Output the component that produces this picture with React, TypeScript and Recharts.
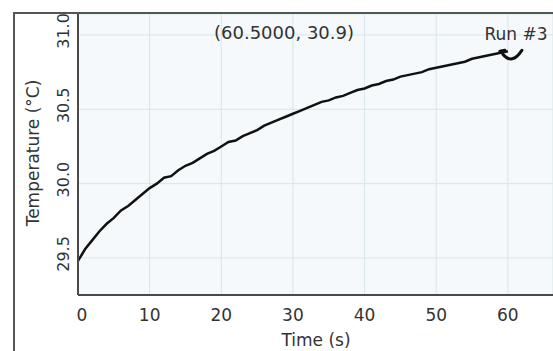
import { LineChart, Line, XAxis, YAxis, CartesianGrid, Customized } from "recharts";

// Run #3 temperature readings, one per second
const TIMES = [
  0, 1, 2, 3, 4, 5, 6, 7, 8, 9, 10, 11, 12, 13, 14, 15, 16, 17, 18, 19, 20,
  21, 22, 23, 24, 25, 26, 27, 28, 29, 30, 31, 32, 33, 34, 35, 36, 37, 38, 39,
  40, 41, 42, 43, 44, 45, 46, 47, 48, 49, 50, 51, 52, 53, 54, 55, 56, 57, 58,
  59, 60,
];
const TEMPS = [
  29.48, 29.56, 29.62, 29.68, 29.73, 29.77, 29.82, 29.85, 29.89, 29.93, 29.97,
  30.0, 30.04, 30.05, 30.09, 30.12, 30.14, 30.17, 30.2, 30.22, 30.25, 30.28,
  30.29, 30.32, 30.34, 30.36, 30.39, 30.41, 30.43, 30.45, 30.47, 30.49, 30.51,
  30.53, 30.55, 30.56, 30.58, 30.59, 30.61, 30.63, 30.64, 30.66, 30.67, 30.69,
  30.7, 30.72, 30.73, 30.74, 30.75, 30.77, 30.78, 30.79, 30.8, 30.81, 30.82,
  30.84, 30.85, 30.86, 30.87, 30.88, 30.89,
];
const X_TICKS = [0, 10, 20, 30, 40, 50, 60];
const Y_TICKS = [29.5, 30.0, 30.5, 31.0];

const data = TIMES.map((t, i) => ({ t, temp: TEMPS[i] }));

const FONT = "DejaVu Sans";
const TEXT = "#333";

function XTick({ x, payload }: any) {
  const nudge = payload.value === 0 ? 4 : 0;
  return (
    <text x={x + nudge} y={321} textAnchor="middle" fontFamily={FONT} fontSize={17} fill={TEXT}>
      {payload.value}
    </text>
  );
}

function YTick({ y, payload }: any) {
  const cy = y - 4;
  return (
    <text
      x={69}
      y={cy}
      transform={`rotate(-90 69 ${cy})`}
      textAnchor="middle"
      fontFamily={FONT}
      fontSize={16}
      fill={TEXT}
    >
      {payload.value.toFixed(1)}
    </text>
  );
}

// hook-shaped cursor drawn at the end of the run
function EndDot(props: any) {
  const { cx, cy, index } = props;
  if (index !== data.length - 1) return <g key={index} />;
  return (
    <path
      key={index}
      d={`M ${cx - 8} ${cy} L ${cx - 3} ${cy - 1} M ${cx - 5} ${cy + 3} Q ${cx + 4} ${cy + 14} ${cx + 14} ${cy - 1}`}
      stroke="#111"
      strokeWidth={3}
      fill="none"
      strokeLinecap="round"
    />
  );
}

function Labels() {
  return (
    <g fontFamily={FONT} fill={TEXT}>
      <text x={284} y={39} textAnchor="middle" fontSize={18}>
        (60.5000, 30.9)
      </text>
      <text x={516} y={40} textAnchor="middle" fontSize={17}>
        Run #3
      </text>
      <text x={316} y={346} textAnchor="middle" fontSize={17}>
        Time  (s)
      </text>
      <text x={39} y={153} transform="rotate(-90 39 153)" textAnchor="middle" fontSize={17}>
        Temperature (°C)
      </text>
    </g>
  );
}

export default function App() {
  return (
    <div style={{ position: "fixed", left: 0, top: 0, width: 553, height: 351, background: "#fff" }}>
      <LineChart width={553} height={351} data={data} margin={{ top: 14, right: 0, bottom: 0, left: 0 }}>
        <CartesianGrid fill="#f5f9fb" stroke="#d8e5ea" strokeWidth={1} />
        <XAxis
          dataKey="t"
          type="number"
          domain={[0, 66.3]}
          ticks={X_TICKS}
          allowDataOverflow
          height={56}
          tickLine={false}
          tickSize={0}
          axisLine={{ stroke: "#4a4a4a", strokeWidth: 2 }}
          tick={<XTick />}
        />
        <YAxis
          type="number"
          domain={[29.251, 31.141]}
          ticks={Y_TICKS}
          allowDataOverflow
          width={78}
          tickLine={false}
          tickSize={0}
          axisLine={{ stroke: "#4a4a4a", strokeWidth: 2 }}
          tick={<YTick />}
        />
        <Line
          dataKey="temp"
          type="linear"
          stroke="#111"
          strokeWidth={2.5}
          dot={EndDot}
          activeDot={false}
          isAnimationActive={false}
        />
        <Customized component={Labels} />
      </LineChart>
      <div
        style={{
          position: "absolute",
          left: 13,
          top: 12,
          width: 540,
          height: 339,
          borderTop: "2px solid #555",
          borderLeft: "2px solid #555",
          pointerEvents: "none",
        }}
      />
    </div>
  );
}
